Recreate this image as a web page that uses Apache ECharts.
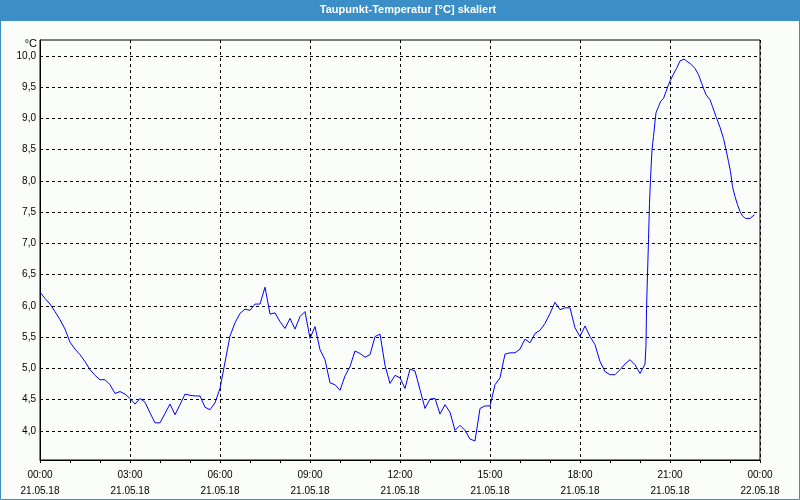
<!DOCTYPE html>
<html>
<head>
<meta charset="utf-8">
<script src="https://cdn.jsdelivr.net/npm/echarts@6/dist/echarts.min.js"></script>
<style>
html,body{margin:0;padding:0;background:#fbfdfb;}
#chart{width:800px;height:500px;}
</style>
</head>
<body>
<div id="chart"></div>
<script>
// ---- data ----
var chartTitle = 'Taupunkt-Temperatur [°C] skaliert';
var unitLabel = '°C';
// minutes since 21.05.18 00:00
var timeMinutes = [
  0,10,20,30,40,50,60,70,80,90,
  100,110,120,130,140,150,160,170,180,190,
  200,210,220,230,240,250,260,270,280,290,
  300,310,320,330,340,350,360,370,380,390,
  400,410,420,430,440,450,460,470,480,490,
  500,510,520,530,540,550,560,570,580,590,
  600,610,620,630,640,650,660,670,680,690,
  700,710,720,730,740,750,760,770,780,790,
  800,810,820,830,840,850,860,870,880,890,
  900,910,920,930,940,950,960,970,980,990,
  1000,1010,1020,1030,1040,1050,1060,1070,1080,1090,
  1100,1110,1120,1130,1140,1150,1160,1170,1180,1190,
  1200,1210,
  1212,1213,1215,1217,1219,1221,1224,1227,1230,1232,
  1237,1241,1247,1252,1257,1262,1267,1273,1280,1288,
  1293,1303,1310,1317,1323,1328,1332,1340,1345,1352,
  1360,1367,1372,1377,1381,1385,1390,1395,1400,1405,
  1411,1420,1429
];
var dewPoint = [
  6.22,6.12,6.03,5.91,5.78,5.63,5.42,5.31,5.22,5.11,
  4.98,4.89,4.82,4.82,4.74,4.60,4.63,4.59,4.52,4.43,
  4.52,4.46,4.29,4.13,4.13,4.28,4.43,4.26,4.42,4.59,
  4.57,4.56,4.56,4.38,4.34,4.45,4.68,5.10,5.52,5.73,
  5.88,5.95,5.93,6.03,6.03,6.30,5.87,5.89,5.75,5.64,
  5.80,5.63,5.83,5.91,5.48,5.67,5.30,5.14,4.77,4.74,
  4.65,4.88,5.03,5.28,5.24,5.18,5.22,5.51,5.55,5.05,
  4.76,4.89,4.85,4.68,4.99,4.96,4.66,4.36,4.51,4.52,
  4.27,4.42,4.30,4.01,4.09,4.01,3.87,3.84,4.36,4.40,
  4.40,4.74,4.85,5.23,5.25,5.25,5.31,5.47,5.41,5.56,
  5.61,5.72,5.88,6.06,5.94,5.97,5.97,5.65,5.51,5.68,
  5.51,5.38,5.11,4.95,4.90,4.90,4.98,5.07,5.14,5.06,
  4.92,5.07,
  5.38,5.94,6.50,7.06,7.64,8.04,8.50,8.71,8.95,9.09,
  9.19,9.27,9.32,9.43,9.54,9.63,9.71,9.80,9.92,9.95,
  9.92,9.86,9.80,9.70,9.57,9.46,9.38,9.30,9.19,9.03,
  8.86,8.68,8.50,8.31,8.15,7.91,7.75,7.62,7.51,7.44,
  7.40,7.40,7.46
];
var xTickTimes = ['00:00','03:00','06:00','09:00','12:00','15:00','18:00','21:00','00:00'];
var xTickDates = ['21.05.18','21.05.18','21.05.18','21.05.18','21.05.18','21.05.18','21.05.18','21.05.18','22.05.18'];
var yTickValues = [4.0,4.5,5.0,5.5,6.0,6.5,7.0,7.5,8.0,8.5,9.0,9.5,10.0];

// ---- chart ----
var blue = '#3c8fc6';
var fontFam = '"Liberation Sans", Arial, sans-serif';
var seriesData = timeMinutes.map(function (t, i) { return [t, dewPoint[i]]; });

var chart = echarts.init(document.getElementById('chart'), null, {renderer: 'canvas'});
chart.setOption({
  animation: false,
  backgroundColor: '#fbfdfb',
  grid: {
    left: 40, right: 40, top: 40, bottom: 40,
    show: true, borderColor: '#000', borderWidth: 1, backgroundColor: 'transparent'
  },
  graphic: [
    {type: 'rect', left: 0, top: 0, shape: {width: 800, height: 21}, style: {fill: blue}, z: 0},
    {type: 'rect', shape: {x: 0.5, y: 0.5, width: 799, height: 499}, style: {fill: null, stroke: blue, lineWidth: 1}, z: 0},
    {type: 'text', x: 408, y: 10, style: {text: chartTitle, fill: '#fff', font: 'bold 11px ' + fontFam, textAlign: 'center', textVerticalAlign: 'middle'}, z: 10},
    {type: 'text', x: 37, y: 44, style: {text: unitLabel, fill: '#000', font: '11px ' + fontFam, textAlign: 'right', textVerticalAlign: 'middle'}, z: 10}
  ],
  xAxis: {
    type: 'value', min: 0, max: 1440, interval: 180,
    axisLine: {show: true, lineStyle: {color: '#000', width: 1}},
    axisTick: {show: true, length: 3, lineStyle: {color: '#000'}},
    minorTick: {show: true, splitNumber: 3, length: 3, lineStyle: {color: '#000'}},
    splitLine: {show: true, lineStyle: {color: '#000', type: [3, 3], width: 1}},
    axisLabel: {
      margin: 7, color: '#000', fontFamily: fontFam, fontSize: 10, lineHeight: 16,
      formatter: function (v) {
        var k = Math.round(v / 180);
        return xTickTimes[k] + '\n' + xTickDates[k];
      }
    }
  },
  yAxis: {
    type: 'value', min: 3.535, max: 10.255,
    axisLine: {show: true, lineStyle: {color: '#000', width: 1}},
    axisTick: {show: false, customValues: yTickValues},
    splitLine: {show: true, lineStyle: {color: '#000', type: [3, 3], width: 1}},
    axisLabel: {
      customValues: yTickValues, margin: 4, color: '#000', fontFamily: fontFam, fontSize: 10,
      formatter: function (v) { return v.toFixed(1).replace('.', ','); }
    }
  },
  series: [{
    type: 'line', data: seriesData, showSymbol: false, symbol: 'none',
    lineStyle: {color: '#0000ff', width: 1}, smooth: false
  }]
});
</script>
</body>
</html>
